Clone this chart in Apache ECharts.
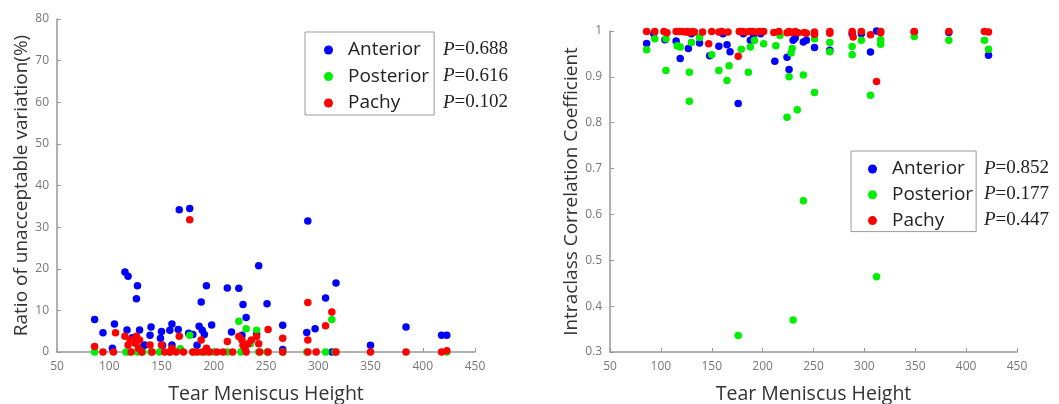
<!DOCTYPE html>
<html>
<head>
<meta charset="utf-8">
<script src="https://cdn.jsdelivr.net/npm/echarts@6/dist/echarts.min.js"></script>
<style>
html,body{margin:0;padding:0;background:#fff;}
#c{width:1059px;height:404px;}
</style>
</head>
<body>
<div id="c"></div>
<script>
// ---- Left chart: Ratio of unacceptable variation (%) ----
const leftAnterior = [[86,7.8],[94,4.6],[103,0.9],[105,6.7],[115,19.2],[118,18.2],[117,5.3],[122,3.4],[126,12.8],[127,15.9],[129,5.3],[132,1.2],[134,1.7],[140,6.0],[139,4.0],[149,3.3],[150,4.9],[151,1.6],[158,5.2],[160,6.7],[160,1.7],[166,5.4],[167,34.2],[177,34.5],[176,4.5],[180,4.2],[186,6.2],[188,12.0],[189,5.2],[191,4.2],[193,15.9],[198,6.5],[184,1.6],[213,15.4],[217,4.8],[224,15.3],[228,11.4],[231,8.3],[227,4.0],[241,4.4],[243,20.7],[251,11.6],[266,6.4],[266,0.6],[290,31.5],[289,4.7],[297,5.6],[307,13.0],[313,0],[317,16.6],[350,1.6],[384,6.0],[418,4.0],[423,4.0]];
const leftPosterior = [[86,0],[116,0],[119,0],[127,0],[132,0],[140,0],[148,0],[158,0],[168,0.8],[177,4.0],[180,0],[188,0],[193,0],[200,0],[213,0],[224,7.4],[226,0],[231,5.6],[235,2.0],[241,5.2],[243,0],[251,0],[266,0],[289,0],[307,0],[313,7.8],[316,0],[423,0]];
const leftPachy = [[86,1.3],[94,0],[104,0],[106,4.6],[115,3.8],[118,1.7],[120,2.9],[121,0],[125,2.1],[126,3.8],[128,0.9],[129,2.9],[131,0],[139,1.7],[141,0],[150,1.7],[153,0],[158,0],[160,0.9],[164,0],[167,3.8],[171,0],[177,31.8],[180,0],[184,0],[188,2.9],[190,0],[193,0.9],[196,0],[203,0],[209,0],[213,2.5],[218,0],[224,3.7],[227,2.9],[228,1.6],[230,0.8],[231,0],[233,2.0],[236,2.9],[241,3.7],[243,2.0],[244,0],[252,5.4],[252,0],[266,3.3],[266,0],[290,11.9],[290,2.9],[290,0],[298,0],[307,6.3],[313,9.6],[317,0],[350,0],[384,0],[418,0],[423,0.3]];
const leftPText = ['0.688','0.616','0.102'];

// ---- Right chart: Intraclass Correlation Coefficient ----
const rightAnterior = [[86,0.973],[93,0.994],[104,0.981],[115,0.978],[119,0.940],[127,0.962],[130,0.994],[138,0.974],[148,0.946],[157,0.967],[161,0.994],[165,0.970],[168,0.955],[176,0.842],[181,0.994],[188,0.980],[191,0.992],[198,0.994],[212,0.934],[224,0.943],[226,0.916],[230,0.980],[232,0.985],[240,0.976],[243,0.980],[251,0.964],[266,0.958],[288,0.994],[297,0.994],[306,0.954],[312,1.0],[349,0.998],[383,0.997],[422,0.947]];
const rightPosterior = [[86,0.959],[94,0.983],[105,0.983],[105,0.914],[116,0.968],[119,0.965],[128,0.910],[128,0.847],[130,0.975],[138,0.986],[150,0.948],[157,0.914],[165,0.892],[167,0.924],[176,0.336],[179,0.960],[186,0.910],[188,0.965],[192,0.980],[201,0.972],[213,0.968],[217,0.990],[224,0.812],[226,0.900],[228,0.952],[229,0.962],[230,0.370],[234,0.828],[240,0.904],[240,0.630],[251,0.866],[251,0.983],[266,0.975],[266,0.955],[288,0.948],[288,0.966],[297,0.980],[306,0.860],[312,0.464],[316,0.981],[316,0.971],[349,0.988],[383,0.980],[418,0.980],[422,0.960]];
const rightPachy = [[86,0.999],[94,0.999],[103,0.999],[106,0.996],[115,0.999],[118,0.999],[121,0.999],[124,0.998],[126,0.999],[128,0.997],[131,0.999],[133,0.998],[141,0.998],[147,0.972],[150,0.999],[157,0.998],[160,0.999],[166,0.998],[176,0.945],[177,0.999],[180,0.999],[183,0.998],[187,0.999],[190,0.999],[194,0.998],[197,0.999],[201,0.999],[211,0.997],[216,0.999],[224,0.996],[226,0.999],[229,0.997],[232,0.999],[235,0.996],[241,0.997],[243,0.995],[251,0.998],[251,0.993],[266,0.999],[266,0.995],[288,0.999],[289,0.987],[297,0.999],[306,0.992],[312,0.890],[316,0.999],[316,0.996],[349,0.999],[383,0.999],[418,0.999],[422,0.998]];
const rightPText = ['0.852','0.177','0.447'];

const seriesNames = ['Anterior','Posterior','Pachy'];
const seriesColors = ['#0000ff','#00ee00','#ff0000'];
const xTitle = 'Tear Meniscus Height';
const leftYTitle = 'Ratio of unacceptable variation(%)';
const rightYTitle = 'Intraclass Correlation Coefficient';

const FONT = 'Open Sans';
const axisCommon = {
  axisLine:{show:true, lineStyle:{color:'#999', width:1.5}},
  axisTick:{show:true, inside:true, length:4, lineStyle:{color:'#999'}},
  axisLabel:{color:'#777', fontSize:12, fontFamily:FONT},
  splitLine:{show:false},
  nameTextStyle:{color:'#333', fontSize:19, fontFamily:FONT}
};
function xAxisDef(gi){
  return Object.assign({}, axisCommon, {
    type:'value', gridIndex:gi, min:50, max:450, interval:50,
    name:xTitle, nameLocation:'middle', nameGap:32,
    nameTextStyle:Object.assign({}, axisCommon.nameTextStyle, {fontSize:19.5}),
    axisLabel:Object.assign({}, axisCommon.axisLabel, {margin:9})
  });
}
const chart = echarts.init(document.getElementById('c'));
function mk(name, data, gi, color){
  return {name:name, type:'scatter', xAxisIndex:gi, yAxisIndex:gi, data:data,
    symbol:'circle', symbolSize:7.5, itemStyle:{color:color, opacity:1}, emphasis:{disabled:true}};
}
function pGraphic(left, top, vals, gap){
  return vals.map((v,i)=>({type:'text', left:left, top:top + i*gap,
    style:{text:'{i|P}=' + v, fill:'#222', font:'19px "Liberation Serif"',
      rich:{i:{fontStyle:'italic', fontFamily:'Liberation Serif', fontSize:19, fill:'#222'}}}}));
}
const legendCommon = {
  orient:'vertical', data:seriesNames, icon:'circle', itemWidth:9, itemHeight:9,
  borderColor:'#999', borderWidth:1, itemGap:4.5,
  textStyle:{fontSize:19, fontFamily:FONT, color:'#222', lineHeight:22, padding:[0,0,0,10]},
  selectedMode:false
};
chart.setOption({
  animation:false,
  backgroundColor:'#fff',
  grid:[
    {left:57, right:584, top:19, bottom:52, outerBoundsMode:'none', containLabel:false},
    {left:610, right:42, top:31, bottom:52, outerBoundsMode:'none', containLabel:false}
  ],
  xAxis:[xAxisDef(0), xAxisDef(1)],
  yAxis:[
    Object.assign({}, axisCommon, {type:'value', gridIndex:0, min:0, max:80, interval:10,
      name:leftYTitle, nameLocation:'middle', nameGap:24}),
    Object.assign({}, axisCommon, {type:'value', gridIndex:1, min:0.3, max:1, interval:0.1,
      name:rightYTitle, nameLocation:'middle', nameGap:25,
      axisLabel:Object.assign({}, axisCommon.axisLabel, {formatter:v=>String(+v.toFixed(1))})})
  ],
  legend:[
    Object.assign({}, legendCommon, {left:305, top:32, padding:[7,5,1,19]}),
    Object.assign({}, legendCommon, {left:851, top:151, padding:[7,3,0,17], itemGap:3.8})
  ],
  graphic:[].concat(pGraphic(443, 40, leftPText, 26.5), pGraphic(984, 159, rightPText, 25.8)),
  series:[
    mk(seriesNames[0], leftAnterior, 0, seriesColors[0]),
    mk(seriesNames[1], leftPosterior, 0, seriesColors[1]),
    mk(seriesNames[2], leftPachy, 0, seriesColors[2]),
    mk(seriesNames[0], rightAnterior, 1, seriesColors[0]),
    mk(seriesNames[1], rightPosterior, 1, seriesColors[1]),
    mk(seriesNames[2], rightPachy, 1, seriesColors[2])
  ]
});
</script>
</body>
</html>
